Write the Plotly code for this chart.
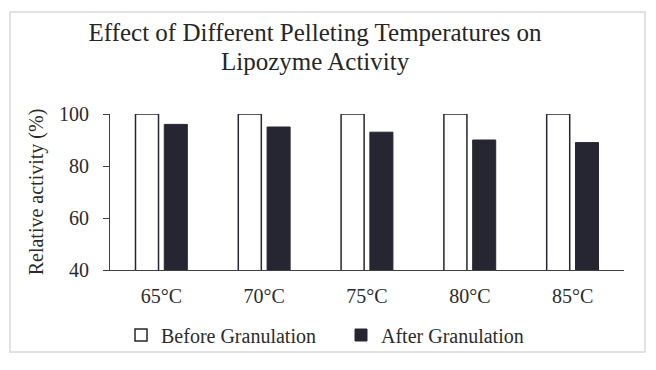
import plotly.graph_objects as go

categories = ["65°C", "70°C", "75°C", "80°C", "85°C"]
before = [100, 100, 100, 100, 100]
after = [96, 95, 93, 90, 89]

title_line1 = "Effect of Different Pelleting Temperatures on"
title_line2 = "Lipozyme Activity"

FONT = "Liberation Serif, Times New Roman, serif"
DARK = "#262633"
TXT = "#2b2b2b"

# page offset of the figure (browser body margin)
OFF = 8
PL, PR, PT, PB = 110, 624, 114, 270  # plot area in page px
PW, PH = PR - PL, PB - PT

def px_x(p):
    return (p - PL) / PW

def px_y(p):
    return (PB - p) / PH

fig = go.Figure()
fig.add_trace(go.Bar(
    x=categories, y=before, name="Before Granulation", legend="legend",
    marker=dict(color="white", line=dict(color=DARK, width=1.5)),
))
fig.add_trace(go.Bar(
    x=categories, y=after, name="After Granulation", legend="legend2",
    marker=dict(color=DARK, line=dict(color=DARK, width=1)),
))

leg_common = dict(
    orientation="h", yanchor="middle", xanchor="left",
    font=dict(family=FONT, size=20, color=TXT),
    bgcolor="rgba(0,0,0,0)", borderwidth=0,
)

fig.update_layout(
    width=656, height=370,
    margin=dict(l=PL - OFF, r=656 + OFF - PR, t=PT - OFF, b=370 + OFF - PB),
    paper_bgcolor="white", plot_bgcolor="white",
    font=dict(family=FONT, color=TXT, size=20),
    title=dict(
        text=title_line1,
        x=(315 - OFF) / 656, xanchor="center",
        y=1 - (32 - OFF) / 370, yanchor="middle",
        font=dict(family=FONT, size=25, color="#262626"),
    ),
    annotations=[dict(
        text=title_line2, xref="paper", yref="paper",
        x=px_x(315), y=px_y(61), xanchor="center", yanchor="middle",
        showarrow=False, font=dict(family=FONT, size=25, color="#262626"),
    )],
    barmode="group", bargap=0.44, bargroupgap=0.2,
    showlegend=True,
    legend=dict(x=px_x(121), y=px_y(335), **leg_common),
    legend2=dict(x=px_x(341), y=px_y(335), **leg_common),
    shapes=[dict(
        type="rect", xref="paper", yref="paper",
        x0=px_x(10), x1=px_x(645), y0=px_y(352), y1=px_y(12),
        line=dict(color="#d9d9d9", width=1.5), fillcolor="rgba(0,0,0,0)",
        layer="below",
    )],
)

fig.update_yaxes(
    range=[40, 100], tickvals=[40, 60, 80, 100],
    showline=True, linecolor="#404040", linewidth=1.2,
    ticks="outside", ticklen=6, tickcolor="#404040",
    ticklabelstandoff=10,
    showgrid=False, zeroline=False,
    tickfont=dict(family=FONT, size=20, color=TXT),
    title=dict(text="Relative activity (%)", standoff=9,
               font=dict(family=FONT, size=20, color=TXT)),
)
fig.update_xaxes(
    showline=True, linecolor="#404040", linewidth=1.2,
    ticks="", showgrid=False, ticklabelstandoff=8,
    tickfont=dict(family=FONT, size=20, color=TXT),
)

fig.write_html("out.html")
